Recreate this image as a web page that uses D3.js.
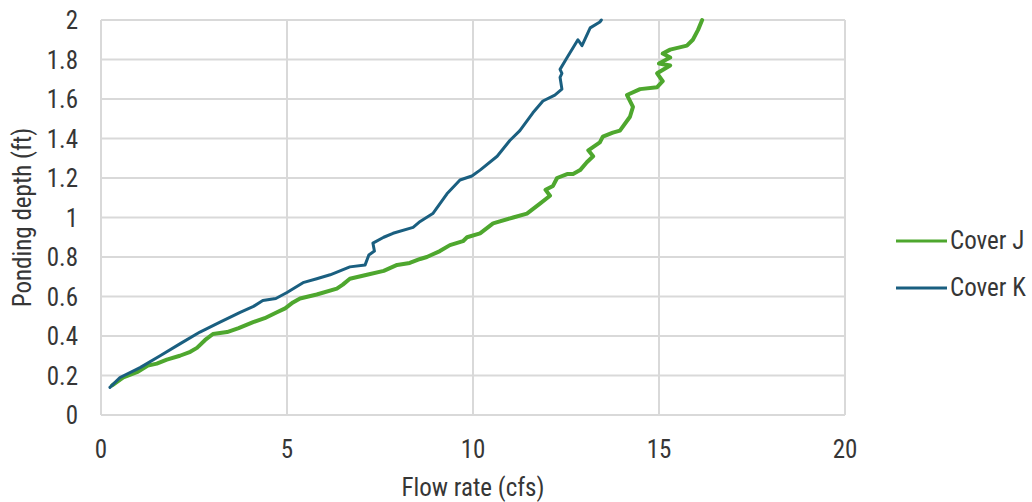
<!DOCTYPE html>
<html lang="en">
<head>
  <meta charset="UTF-8">
  <title>Ponding depth vs flow rate</title>
  <script src="https://d3js.org/d3.v7.min.js"></script>
  <style>
    body { margin: 0; background: #fff; }
    svg { font-family: "Liberation Sans Narrow", "Roboto Condensed", "Arial Narrow", sans-serif; }
    .grid-line { stroke: #d9d9d9; stroke-width: 2; }
    .tick-label { fill: #363636; font-size: 25px; }
  </style>
</head>
<body>
<script>
  // Data (flow cfs, depth ft)
  const coverJFlow = [0.3, 0.6, 1.0, 1.26, 1.5, 1.77, 2.12, 2.4, 2.58, 2.8, 3.01, 3.39, 3.7, 4.09, 4.4, 4.73, 4.95, 5.16, 5.35, 5.8, 6.34, 6.5, 6.69, 7.15, 7.6, 7.96, 8.3, 8.58, 8.76, 9.11, 9.38, 9.73, 9.84, 10.19, 10.54, 11.08, 11.45, 11.8, 12.07, 11.95, 12.15, 12.26, 12.53, 12.69, 12.88, 13.06, 13.23, 13.1, 13.41, 13.49, 13.76, 13.95, 14.22, 14.3, 14.14, 14.49, 14.95, 15.1, 14.95, 15.3, 15.0, 15.3, 15.1, 15.3, 15.75, 15.91, 16.05, 16.16];
  const coverJDepth = [0.15, 0.19, 0.22, 0.25, 0.26, 0.28, 0.30, 0.32, 0.34, 0.38, 0.41, 0.42, 0.44, 0.47, 0.49, 0.52, 0.54, 0.57, 0.59, 0.61, 0.64, 0.66, 0.69, 0.71, 0.73, 0.76, 0.77, 0.79, 0.80, 0.83, 0.86, 0.88, 0.90, 0.92, 0.97, 1.00, 1.02, 1.07, 1.11, 1.14, 1.16, 1.20, 1.22, 1.22, 1.24, 1.28, 1.31, 1.34, 1.38, 1.41, 1.43, 1.44, 1.51, 1.56, 1.62, 1.65, 1.66, 1.69, 1.73, 1.77, 1.78, 1.81, 1.83, 1.85, 1.87, 1.90, 1.95, 2.0];

  const coverKFlow = [0.24, 0.51, 1.05, 1.59, 2.12, 2.66, 3.2, 3.74, 4.1, 4.35, 4.7, 5.0, 5.43, 5.8, 6.16, 6.69, 7.1, 7.2, 7.35, 7.31, 7.6, 7.85, 8.39, 8.58, 8.92, 9.3, 9.65, 9.97, 10.19, 10.65, 10.99, 11.26, 11.61, 11.88, 12.2, 12.39, 12.34, 12.39, 12.34, 12.53, 12.82, 12.93, 13.15, 13.41, 13.45];
  const coverKDepth = [0.14, 0.19, 0.24, 0.30, 0.36, 0.42, 0.47, 0.52, 0.55, 0.58, 0.59, 0.62, 0.67, 0.69, 0.71, 0.75, 0.76, 0.81, 0.83, 0.87, 0.90, 0.92, 0.95, 0.98, 1.02, 1.12, 1.19, 1.21, 1.24, 1.31, 1.39, 1.44, 1.53, 1.59, 1.62, 1.65, 1.71, 1.73, 1.75, 1.81, 1.90, 1.87, 1.96, 1.99, 2.0];

  const seriesNames = ['Cover J', 'Cover K'];
  const seriesColors = ['#4ea72e', '#1a5f80'];
  const xTicks = [0, 5, 10, 15, 20];
  const yTicks = [0, 0.2, 0.4, 0.6, 0.8, 1, 1.2, 1.4, 1.6, 1.8, 2];

  const width = 1032, height = 502;
  const margin = {top: 20, left: 101, right: 187, bottom: 87};

  const svg = d3.select('body').append('svg')
    .attr('width', width)
    .attr('height', height);

  const x = d3.scaleLinear().domain([0, 20]).range([margin.left, width - margin.right]);
  const y = d3.scaleLinear().domain([0, 2]).range([height - margin.bottom, margin.top]);

  // grid
  svg.selectAll('.vgrid')
    .data(xTicks)
    .join('line')
    .attr('class', 'grid-line')
    .attr('x1', d => x(d)).attr('x2', d => x(d))
    .attr('y1', y(0)).attr('y2', y(2));

  svg.selectAll('.hgrid')
    .data(yTicks)
    .join('line')
    .attr('class', 'grid-line')
    .attr('x1', x(0)).attr('x2', x(20))
    .attr('y1', d => y(d)).attr('y2', d => y(d));

  // tick labels
  svg.selectAll('.xlab')
    .data(xTicks)
    .join('text')
    .attr('class', 'tick-label')
    .attr('x', d => x(d))
    .attr('y', 458)
    .attr('text-anchor', 'middle')
    .text(d => d);

  svg.selectAll('.ylab')
    .data(yTicks)
    .join('text')
    .attr('class', 'tick-label')
    .attr('x', 78)
    .attr('y', d => y(d) + 9)
    .attr('text-anchor', 'end')
    .text(d => d);

  // axis titles
  svg.append('text')
    .attr('class', 'tick-label')
    .attr('x', x(10))
    .attr('y', 496)
    .attr('text-anchor', 'middle')
    .text('Flow rate (cfs)');

  svg.append('text')
    .attr('class', 'tick-label')
    .attr('transform', `translate(31,${y(1)}) rotate(-90)`)
    .attr('text-anchor', 'middle')
    .text('Ponding depth (ft)');

  // lines
  const series = [
    coverJFlow.map((f, i) => [f, coverJDepth[i]]),
    coverKFlow.map((f, i) => [f, coverKDepth[i]])
  ];
  const line = d3.line().x(d => x(d[0])).y(d => y(d[1]));

  svg.selectAll('.series')
    .data(series)
    .join('path')
    .attr('fill', 'none')
    .attr('stroke', (d, i) => seriesColors[i])
    .attr('stroke-width', (d, i) => i === 0 ? 4 : 3)
    .attr('stroke-linejoin', 'round')
    .attr('stroke-linecap', 'round')
    .attr('d', line);

  // legend
  const legendY = [241, 288];
  seriesNames.forEach((name, i) => {
    svg.append('line')
      .attr('x1', 896).attr('x2', 947)
      .attr('y1', legendY[i]).attr('y2', legendY[i])
      .attr('stroke', seriesColors[i])
      .attr('stroke-width', 3);
    svg.append('text')
      .attr('class', 'tick-label')
      .attr('x', 950)
      .attr('y', legendY[i] + 8)
      .text(name);
  });
</script>
</body>
</html>
